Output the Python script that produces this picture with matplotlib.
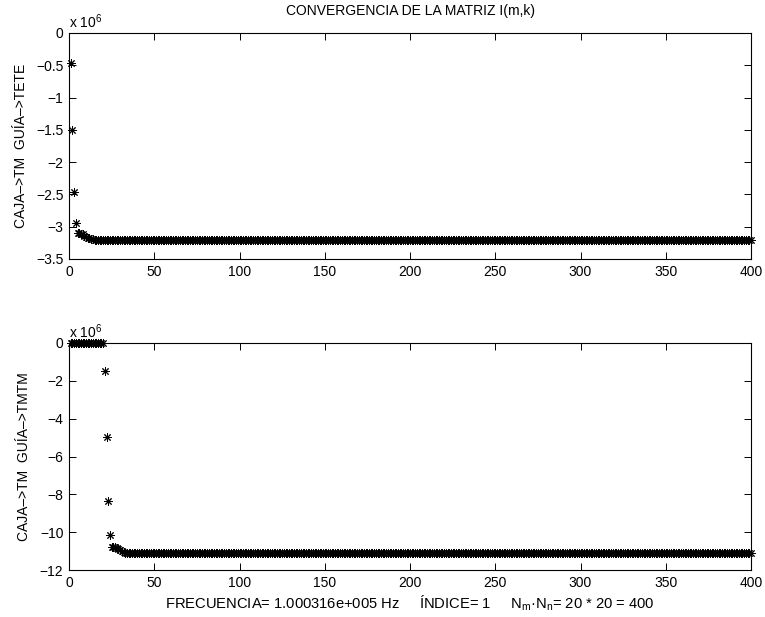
import matplotlib
matplotlib.use("Agg")
import matplotlib.pyplot as plt
import numpy as np

plt.rcParams['font.family'] = ['Liberation Sans', 'DejaVu Sans']
plt.rcParams['mathtext.default'] = 'regular'
plt.rcParams['font.size'] = 10

# ---- data (values in units of 1e6) ----
N_TOTAL = 400
SCALE_EXP = 6
# Top panel: CAJA->TM  GUIA->TETE
tete_transient = [-0.47, -1.50, -2.46, -2.95, -3.10, -3.10, -3.11, -3.12, -3.14,
                  -3.16, -3.17, -3.18, -3.19, -3.19, -3.20]
tete_plateau = -3.20
# Bottom panel: CAJA->TM  GUIA->TMTM
tmtm_transient = [0.0] * 20 + [-1.48, -4.95, -8.33, -10.15, -10.77, -10.79, -10.81,
                               -10.84, -10.90, -10.96, -11.01, -11.05, -11.08,
                               -11.10, -11.11]
tmtm_plateau = -11.12

tete = tete_transient + [tete_plateau] * (N_TOTAL - len(tete_transient))
tmtm = tmtm_transient + [tmtm_plateau] * (N_TOTAL - len(tmtm_transient))
k = list(range(1, N_TOTAL + 1))

xticks = [0, 50, 100, 150, 200, 250, 300, 350, 400]
top_yticks = [0, -0.5, -1, -1.5, -2, -2.5, -3, -3.5]
bot_yticks = [0, -2, -4, -6, -8, -10, -12]

title = "CONVERGENCIA DE LA MATRIZ I(m,k)"
top_ylabel = "CAJA–>TM  GUÍA–>TETE"
bot_ylabel = "CAJA–>TM  GUÍA–>TMTM"
xlabel = "FRECUENCIA= 1.000316e+005 Hz     ÍNDICE= 1     $N_m$·$N_n$= 20 * 20 = 400"

W, H = 765, 617
fig = plt.figure(figsize=(W / 100, H / 100), dpi=100)

def axes_px(l, t, r, b):
    return fig.add_axes([l / W, 1 - b / H, (r - l) / W, (b - t) / H])

ax1 = axes_px(69, 33, 751, 259)
ax2 = axes_px(69, 343, 751, 570)

marker = (8, 2, 0)
for ax, y, yt, ylab in [(ax1, tete, top_yticks, top_ylabel),
                        (ax2, tmtm, bot_yticks, bot_ylabel)]:
    ax.plot(k, y, linestyle='none', marker=marker, markersize=6,
            markeredgewidth=0.7, color='black', clip_on=False)
    ax.set_xlim(0, 400)
    ax.set_ylim(min(yt), max(yt))
    ax.set_xticks(xticks)
    ax.set_yticks(yt)
    ax.set_yticklabels([('%g' % v).replace('-', '\u2212') for v in yt])
    ax.tick_params(direction='in', length=5, width=0.7, top=True, right=True,
                   labelsize=10, pad=4, color='black')
    for s in ax.spines.values():
        s.set_linewidth(0.8)
    ax.set_ylabel(ylab, fontsize=10, labelpad=6)
    ax.text(0.0, 1.008, r"x 10$^{%d}$" % SCALE_EXP, transform=ax.transAxes,
            ha='left', va='bottom', fontsize=10)

ax1.set_title(title, fontsize=10, pad=13)
ax2.set_xlabel(xlabel, fontsize=10.6, labelpad=3)

fig.savefig("out.png", dpi=100)
